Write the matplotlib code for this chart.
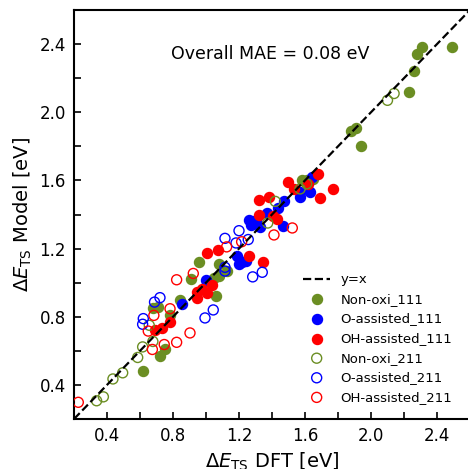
import matplotlib
matplotlib.use("Agg")
import matplotlib.pyplot as plt
from matplotlib.ticker import MultipleLocator

# ---- data ----
nonoxi_111_x = [2.31, 2.28, 2.49, 2.26, 2.23, 1.88, 1.91, 1.94, 1.58, 1.61, 1.65,
                0.96, 1.08, 1.13, 1.05, 1.08, 0.91, 0.84, 1.06, 0.71, 0.68, 0.78,
                0.72, 0.75, 0.62]
nonoxi_111_y = [2.38, 2.34, 2.38, 2.24, 2.12, 1.89, 1.91, 1.80, 1.60, 1.60, 1.61,
                1.12, 1.11, 1.07, 1.03, 1.04, 1.02, 0.90, 0.92, 0.86, 0.85, 0.81,
                0.57, 0.61, 0.48]

oass_111_x = [1.64, 1.57, 1.63, 1.57, 1.475, 1.435, 1.37, 1.26, 1.27, 1.31, 1.33,
              1.29, 1.465, 1.19, 1.20, 1.22, 1.24, 1.00, 0.856]
oass_111_y = [1.62, 1.53, 1.53, 1.50, 1.48, 1.44, 1.41, 1.37, 1.34, 1.35, 1.325,
              1.36, 1.335, 1.155, 1.11, 1.12, 1.13, 1.015, 0.877]

ohass_111_x = [1.68, 1.62, 1.495, 1.533, 1.772, 1.69, 1.323, 1.382, 1.323, 1.408,
               1.428, 1.075, 1.004, 1.261, 1.343, 1.035, 0.974, 0.944, 1.004,
               0.944, 0.782, 0.731, 0.691]
ohass_111_y = [1.637, 1.578, 1.592, 1.549, 1.549, 1.496, 1.485, 1.50, 1.397, 1.393,
               1.374, 1.194, 1.173, 1.155, 1.124, 0.984, 0.964, 0.944, 0.941,
               0.909, 0.769, 0.736, 0.72]

nonoxi_211_x = [2.14, 2.10, 1.61, 1.57, 1.42, 1.374, 0.656, 0.678, 0.616, 0.586,
                0.495, 0.436, 0.337, 0.378]
nonoxi_211_y = [2.11, 2.07, 1.58, 1.55, 1.477, 1.35, 0.75, 0.655, 0.623, 0.561,
                0.471, 0.435, 0.307, 0.33]

oass_211_x = [1.20, 1.115, 1.182, 1.256, 1.115, 1.115, 1.283, 1.341, 0.721, 0.688,
              0.62, 0.616, 1.044, 0.994]
oass_211_y = [1.305, 1.26, 1.233, 1.253, 1.09, 1.068, 1.034, 1.061, 0.912, 0.886,
              0.789, 0.756, 0.84, 0.793]

ohass_211_x = [1.523, 1.412, 1.216, 1.125, 0.923, 0.822, 0.782, 0.684, 0.65, 0.903,
               0.822, 0.747, 0.675, 0.226]
ohass_211_y = [1.321, 1.28, 1.24, 1.21, 1.054, 1.017, 0.847, 0.808, 0.716, 0.705,
               0.65, 0.637, 0.608, 0.298]

lims = [0.2, 2.6]
green = '#6b8e23'

fig = plt.figure(figsize=(4.68, 4.69), dpi=100)
ax = fig.add_axes([74/468, 50/469, 396/468, 409/469])

ms = 52
h1 = ax.scatter(nonoxi_111_x, nonoxi_111_y, s=ms, c=green, label='Non-oxi_111', zorder=2)
h2 = ax.scatter(oass_111_x, oass_111_y, s=ms, c='blue', label='O-assisted_111', zorder=2)
h3 = ax.scatter(ohass_111_x, ohass_111_y, s=ms, c='red', label='OH-assisted_111', zorder=2)
h4 = ax.scatter(nonoxi_211_x, nonoxi_211_y, s=ms, facecolors='none', edgecolors=green,
                linewidths=1, label='Non-oxi_211', zorder=3)
h5 = ax.scatter(oass_211_x, oass_211_y, s=ms, facecolors='none', edgecolors='blue',
                linewidths=1, label='O-assisted_211', zorder=3)
h6 = ax.scatter(ohass_211_x, ohass_211_y, s=ms, facecolors='none', edgecolors='red',
                linewidths=1, label='OH-assisted_211', zorder=3)
hl, = ax.plot(lims, lims, 'k--', lw=1.6, label='y=x', zorder=4)

ax.set_xlim(lims)
ax.set_ylim(lims)
ax.xaxis.set_major_locator(MultipleLocator(0.4))
ax.yaxis.set_major_locator(MultipleLocator(0.4))
ax.xaxis.set_minor_locator(MultipleLocator(0.2))
ax.yaxis.set_minor_locator(MultipleLocator(0.2))
ax.tick_params(which='both', direction='in', length=5, width=1.2, labelsize=12)
ax.tick_params(which='major', pad=6)
for sp in ax.spines.values():
    sp.set_linewidth(1.5)

ax.set_xlabel(r'$\Delta E_{\rm TS}$ DFT [eV]', fontsize=14)
ax.set_ylabel(r'$\Delta E_{\rm TS}$ Model [eV]', fontsize=14)

ax.text(1.39, 2.34, 'Overall MAE = 0.08 eV', fontsize=12.5, ha='center', va='center')

ax.legend(handles=[hl, h1, h2, h3, h4, h5, h6], loc='lower right', frameon=False,
          fontsize=9.5, bbox_to_anchor=(0.985, 0.008))

fig.savefig('out.png', dpi=100)
